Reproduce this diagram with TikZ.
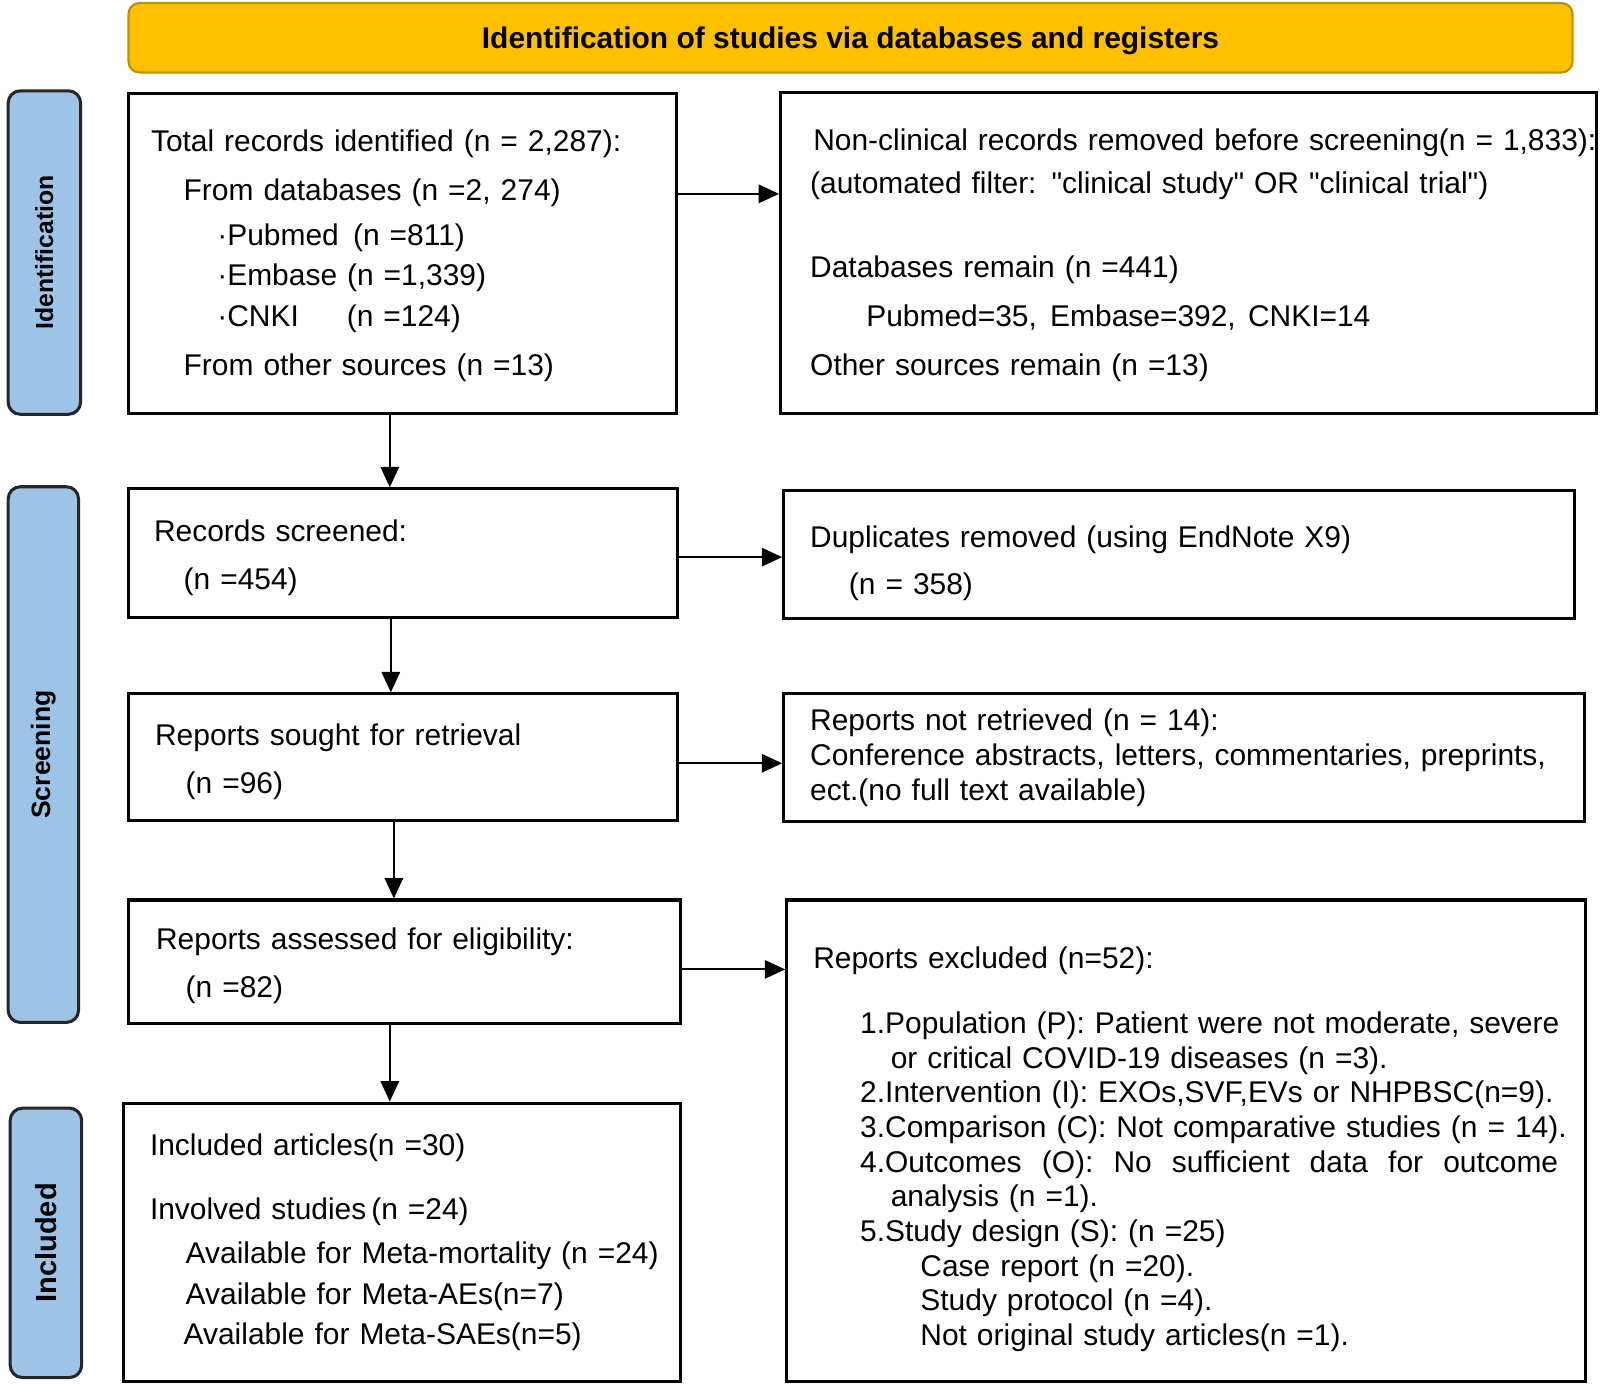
\documentclass[tikz,border=0pt]{standalone}
\usepackage{fontspec}
\setmainfont{Liberation Sans}[Ligatures=TeXOff]
\usepackage{tikz}
\usetikzlibrary{arrows.meta, calc}

\definecolor{hdrgold}{HTML}{FFC000}
\definecolor{hdredge}{HTML}{BF9000}
\definecolor{phaseblue}{HTML}{9DC3E6}
\newcommand\boxfont{\fontsize{8.35}{9.67}\selectfont}

\tikzset{
  box/.style={draw, line width=0.85pt, inner xsep=0pt, inner ysep=0pt, align=left, font=\boxfont},
  pad/.style 2 args={execute at begin node={\leftskip=#1\rule{0pt}{#2}}},
  phase/.style={draw=black!85, fill=phaseblue, line width=0.85pt, rounded corners=3.4pt,
    rotate=90, inner sep=0pt, font=\bfseries\fontsize{7.4}{8}\selectfont},
  banner/.style={draw=hdredge, fill=hdrgold, line width=0.6pt, rounded corners=3pt,
    inner sep=0pt, text depth=0pt, font=\bfseries\boxfont},
}

\begin{document}
\begin{tikzpicture}[->,>={Triangle[length=2mm,width=1.8mm]},line width=0.55pt]
  \useasboundingbox (0,0) rectangle (15.68,-13.57);

  % header and phase labels
  \node[banner, minimum width=14.15cm, minimum height=0.68cm] (hdr) at (8.335,-0.37)
    {Identification of studies via databases and registers};
  \node[phase, minimum width=3.17cm, minimum height=0.71cm, font=\bfseries\fontsize{6.9}{8}\selectfont]
    (idlab) at (0.435,-2.475) {Identification};
  \node[phase, minimum width=5.25cm, minimum height=0.69cm] (scrlab) at (0.425,-7.395) {Screening};
  \node[phase, minimum width=2.64cm, minimum height=0.70cm, font=\bfseries\fontsize{8.1}{9}\selectfont]
    (inclab) at (0.45,-12.18) {Included};

  % left column
  \node[box, pad={2.2mm}{7.2pt}, text width=5.37cm, minimum height=3.13cm] (total) at (3.945,-2.485)
    {Total records identified (n = 2,287):\\[3.98pt]
     \hspace*{3.2mm}From databases (n =2, 274)\\[2.85pt]
     \hspace*{6.5mm}·Pubmed\hspace{1.4mm}(n =811)\\[1.71pt]
     \hspace*{6.5mm}·Embase (n =1,339)\\[1.71pt]
     \hspace*{6.5mm}·CNKI\hspace{4.7mm}(n =124)\\[3.98pt]
     \hspace*{3.2mm}From other sources (n =13)};
  \node[box, pad={2.5mm}{8.9pt}, text width=5.38cm, minimum height=1.26cm] (screened) at (3.95,-5.42)
    {Records screened:\\[3.7pt]
     \hspace*{2.9mm}(n =454)};
  \node[box, pad={2.6mm}{8.4pt}, text width=5.38cm, minimum height=1.24cm] (sought) at (3.95,-7.42)
    {Reports sought for retrieval\\[3.7pt]
     \hspace*{3mm}(n =96)};
  \node[box, pad={2.7mm}{8.4pt}, text width=5.41cm, minimum height=1.21cm] (assessed) at (3.965,-9.425)
    {Reports assessed for eligibility:\\[3.7pt]
     \hspace*{2.9mm}(n =82)};
  \node[box, pad={2.6mm}{0pt}, text width=5.46cm, minimum height=2.73cm] (included) at (3.94,-12.175)
    {Included articles(n =30)\\[7.97pt]
     Involved studies\,(n =24)\\[2.85pt]
     \hspace*{3.5mm}Available for Meta-mortality (n =24)\\[1.71pt]
     \hspace*{3.5mm}Available for Meta-AEs(n=7)\\[1.42pt]
     \hspace*{3.3mm}Available for Meta-SAEs(n=5)};

  % right column
  \node[box, pad={2.9mm}{7.2pt}, text width=8cm, minimum height=3.14cm] (nonclin) at (11.65,-2.48)
    {\hspace*{0.3mm}Non-clinical records removed before screening(n = 1,833):\\[2.28pt]
     (automated filter: "clinical study" OR "clinical trial")\\[13.94pt]
     Databases remain (n =441)\\[3.98pt]
     \hspace*{5.5mm}Pubmed=35,\hspace{1.3mm}Embase=392,\hspace{1.2mm}CNKI=14\\[3.98pt]
     Other sources remain (n =13)};
  \node[box, pad={2.6mm}{10.7pt}, text width=7.75cm, minimum height=1.25cm] (dupl) at (11.555,-5.435)
    {Duplicates removed (using EndNote X9)\\[3.41pt]
     \hspace*{3.8mm}(n = 358)};
  \node[box, pad={2.6mm}{0pt}, text width=7.85cm, minimum height=1.25cm] (notret) at (11.605,-7.425)
    {Reports not retrieved (n = 14):\\[0.28pt]
     Conference abstracts, letters, commentaries, preprints,\\
     ect.(no full text available)};
  \node[box, pad={2.6mm}{10.7pt}, text width=7.83cm, minimum height=4.72cm] (excl) at (11.625,-11.18)
    {Reports excluded (n=52):\\[8.53pt]
     \hspace*{4.6mm}1.Population (P): Patient were not moderate, severe\\
     \hspace*{7.6mm}or critical COVID-19 diseases (n =3).\\
     \hspace*{4.6mm}2.Intervention (I): EXOs,SVF,EVs or NHPBSC(n=9).\\
     \hspace*{4.6mm}3.Comparison (C): Not comparative studies (n = 14).\\
     \hspace*{4.6mm}\makebox[6.84cm][s]{\spaceskip=0pt 4.Outcomes (O): No sufficient data for outcome}\\
     \hspace*{7.6mm}analysis (n =1).\\
     \hspace*{4.6mm}5.Study design (S): (n =25)\\
     \hspace*{10.5mm}Case report (n =20).\\
     \hspace*{10.5mm}Study protocol (n =4).\\
     \hspace*{10.5mm}Not original study articles(n =1).};

  % connectors
  \draw ([yshift=5.85mm]total.east) -- ([yshift=5.85mm]total.east -| nonclin.west);
  \draw ([yshift=-0.4mm]screened.east) -- ([yshift=-0.4mm]screened.east -| dupl.west);
  \draw ([yshift=-0.6mm]sought.east) -- ([yshift=-0.6mm]sought.east -| notret.west);
  \draw ([yshift=-0.75mm]assessed.east) -- ([yshift=-0.75mm]assessed.east -| excl.west);
  \draw ([xshift=-1.25mm]total.south) -- ([xshift=-1.25mm]total.south |- screened.north);
  \draw ([xshift=-1.2mm]screened.south) -- ([xshift=-1.2mm]screened.south |- sought.north);
  \draw ([xshift=-0.9mm]sought.south) -- ([xshift=-0.9mm]sought.south |- assessed.north);
  \draw ([xshift=-1.45mm]assessed.south) -- ([xshift=-1.45mm]assessed.south |- included.north);
\end{tikzpicture}
\end{document}
